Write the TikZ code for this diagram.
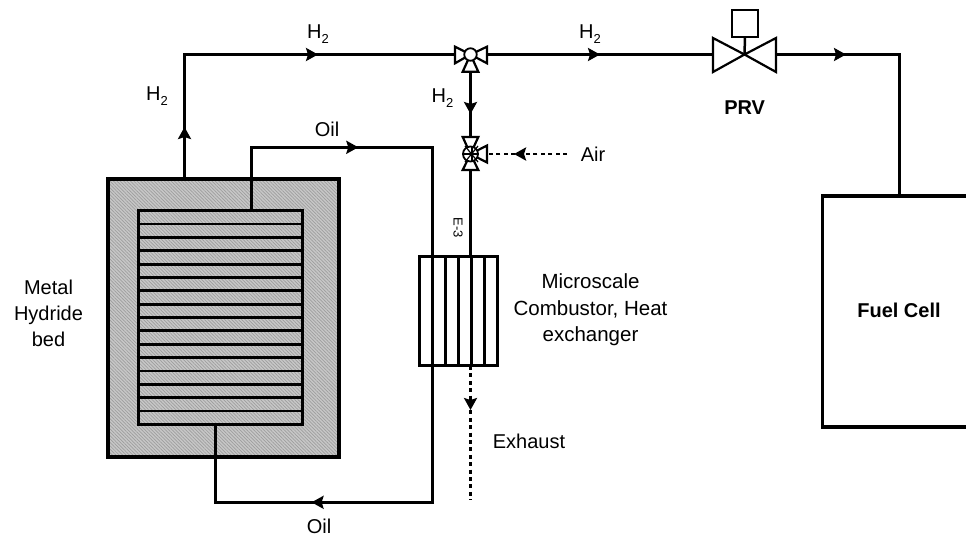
\documentclass[tikz,border=0pt]{standalone}
\usepackage{fontspec}
\setmainfont{Liberation Sans}
\usetikzlibrary{arrows.meta,decorations.markings,patterns.meta}
\definecolor{bedgray}{gray}{0.78}
\definecolor{bedhatch}{gray}{0.62}
\newcommand{\htwo}{H\raisebox{-0.28em}{\fontsize{13}{13}\selectfont 2}}
\tikzset{
	pipe/.style={line width=2.5pt},
	dashline/.style={line width=2.5pt, dash pattern=on 4pt off 3.4pt},
	flow/.style={postaction={decorate, decoration={markings, mark=at position #1 with {\arrow{>}}}}},
	vbody/.style={line width=2.2pt, fill=white, line join=miter},
	label/.style={font=\fontsize{20}{26}\selectfont, align=center, inner sep=0pt},
	boldlabel/.style={label, font=\fontsize{20}{26}\selectfont\bfseries},
}
\begin{document}
\begin{tikzpicture}[x=1pt, y=-1pt, >={Stealth[length=12pt,width=13pt,inset=2pt]}]
	\clip (0,0) rectangle (966,536);
	% 1. metal hydride bed and coil
	\node (bed) [draw, fill=bedgray, line width=4.3pt, minimum width=231pt, minimum height=278pt, inner sep=0pt, outer sep=0pt] at (223.5,318) {};
	\fill[pattern={Lines[angle=-45, distance=2.4pt, line width=0.7pt]}, pattern color=bedhatch] (bed.north west) rectangle (bed.south east);
	\draw[line width=4.3pt] (bed.north west) rectangle (bed.south east);
	\node (coil) [draw, line width=2.8pt, minimum width=164pt, minimum height=213.6pt, inner sep=0pt, outer sep=0pt] at (220.7,317.5) {};
	\foreach \i in {1,...,15} {
		\draw[line width=2.8pt] ([yshift=-13.35pt*\i]coil.north west) -- ([yshift=-13.35pt*\i]coil.north east);
	}
	
	% 2. microscale combustor and fuel cell
	\node (hx) [draw, line width=3pt, minimum width=78pt, minimum height=109.3pt, inner sep=0pt, outer sep=0pt] at (458.3,311.3) {};
	\foreach \i in {1,...,5} {
		\draw[line width=3pt] ([xshift=13pt*\i]hx.north west) -- ([xshift=13pt*\i]hx.south west);
	}
	\node (cell) [draw, line width=3.5pt, minimum width=150pt, minimum height=231pt, inner sep=0pt, outer sep=0pt, anchor=north west] at (822.3,196) {};
	
	% 3. junction points
	\coordinate (bedout) at (184.5,179);
	\coordinate (vawest) at (455,54.5);
	\coordinate (vaeast) at (487,54.5);
	\coordinate (vasouth) at (470.5,72);
	\coordinate (vbnorth) at (470.5,137);
	\coordinate (vbsouth) at (470.5,170);
	\coordinate (vbeast) at (487,154);
	\coordinate (prvwest) at (713,54.5);
	\coordinate (prveast) at (776,54.5);
	\coordinate (prvmid) at (744.5,54.5);
	\coordinate (cellin) at (899.3,196);
	\coordinate (hxin) at (470.5,256.7);
	\coordinate (airin) at (567,154);
	\coordinate (oilup) at (251.7,210.7);
	\coordinate (oilhxtop) at (432.3,256.7);
	\coordinate (oilhxbot) at (432.3,366);
	\coordinate (oildown) at (215.7,424.3);
	\coordinate (exhin) at (470.5,366);
	\coordinate (exhout) at (470.5,500);
	
	% 4. hydrogen pipes
	\draw[pipe, flow=52pt, flow=258pt] (bedout) |- (vawest);
	\draw[pipe, flow=113pt] (vaeast) -- (prvwest);
	\draw[pipe, flow=70pt] (prveast) -| (cellin);
	\draw[pipe, flow=42pt] (vasouth) -- (vbnorth);
	\draw[pipe] (vbsouth) -- (hxin);
	
	% 5. oil loop
	\draw[pipe, flow=170pt] (oilup) |- (oilhxtop |- 0,147.3) -- (oilhxtop);
	\draw[pipe, flow=257pt] (oilhxbot) |- (oildown |- 0,502.3) -- (oildown);
	
	% 6. air and exhaust
	\draw[dashline, flow=53pt] (airin) -- (vbeast);
	\draw[dashline, flow=44pt] (exhin) -- (exhout);
	
	% 7. valves
	\draw[vbody] (470.5,54.5) -- (vawest |- 0,46.7) -- (vawest |- 0,63.3) -- cycle;
	\draw[vbody] (470.5,54.5) -- (vaeast |- 0,46.7) -- (vaeast |- 0,63.3) -- cycle;
	\draw[vbody] (470.5,54.5) -- (462.7,71.7) -- (478.3,71.7) -- cycle;
	\node (valvea) [draw, circle, fill=white, line width=1.8pt, minimum size=12.5pt, inner sep=0pt] at (470.5,54.5) {};
	\draw[vbody] (470.5,154) -- (462.7,137) -- (478.3,137) -- cycle;
	\draw[vbody] (470.5,154) -- (462.7,170) -- (478.3,170) -- cycle;
	\draw[vbody] (470.5,154) -- (487,145.5) -- (487,162.5) -- cycle;
	\node (valveb) [draw, circle, fill=white, line width=1.8pt, minimum size=15pt, inner sep=0pt] at (470.5,154) {};
	\draw[line width=1.2pt] (465,146) -- (478,162);
	\draw[line width=1.2pt] (478,146) -- (465,162);
	\draw[line width=1.2pt] (472,146.5) -- (472,161.5);
	\draw[line width=1.2pt] (463.5,154) -- (478,154);
	\draw[vbody] (prvmid) -- (prvwest |- 0,38) -- (prvwest |- 0,72) -- cycle;
	\draw[vbody] (prvmid) -- (prveast |- 0,38) -- (prveast |- 0,72) -- cycle;
	\node (prvbox) [draw, line width=2.2pt, minimum width=26pt, minimum height=27pt, inner sep=0pt, outer sep=0pt] at (745,23.5) {};
	\draw[pipe] (prvbox.south) -- (prvmid);
	
	% 8. labels
	\node (lblhup) [label] at (157,96) {\htwo};
	\node (lblhtop) [label] at (318,34) {\htwo};
	\node (lblhmid) [label] at (442.5,98) {\htwo};
	\node (lblhright) [label] at (590,34) {\htwo};
	\node (lbloiltop) [label] at (327,129) {Oil};
	\node (lbloilbot) [label] at (319,526) {Oil};
	\node (lblair) [label] at (593,154) {Air};
	\node (lblbed) [label] at (48.5,313.5) {Metal\\Hydride\\bed};
	\node (lblhx) [label, font=\fontsize{20.5}{26.5}\selectfont] at (590.5,310) {Microscale\\Combustor, Heat\\exchanger};
	\node (lblexh) [label] at (529,441) {Exhaust};
	\node (lble3) [label, font=\fontsize{13}{14}\selectfont, rotate=-90] at (458,228) {E-3};
	\node (lblprv) [boldlabel] at (744.7,108) {PRV};
	\node (lblcell) [boldlabel] at (899,310) {Fuel Cell};
\end{tikzpicture}
\end{document}
